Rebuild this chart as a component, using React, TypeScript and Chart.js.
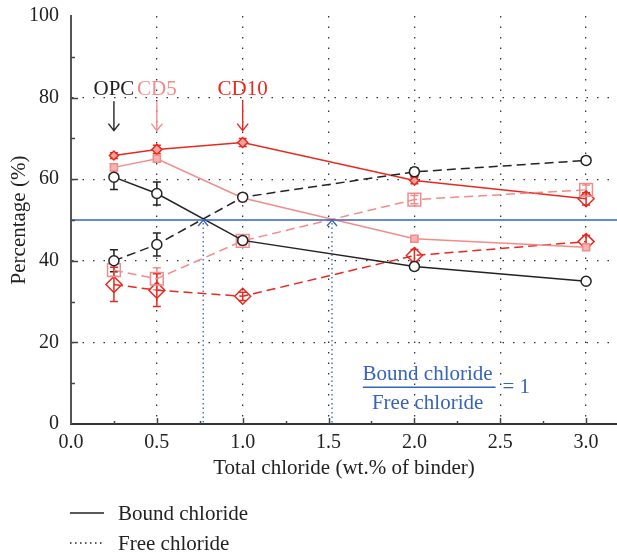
import React, { useEffect, useRef } from "react";
import { Chart, registerables } from "chart.js";

Chart.register(...registerables);

// ---------- data ----------
const totalChloride = [0.25, 0.5, 1.0, 2.0, 3.0];

const opcBound = [60.5, 56.5, 45.0, 38.6, 35.0];
const opcFree = [40.0, 44.0, 55.6, 61.8, 64.6];
const cd5Bound = [62.9, 65.0, 55.4, 45.4, 43.3];
const cd5Free = [37.7, 35.6, 44.9, 55.0, 57.4];
const cd10Bound = [65.8, 67.3, 69.0, 59.7, 55.2];
const cd10Free = [34.2, 32.8, 31.3, 41.3, 44.7];

const opcBoundErr = [3.0, 2.8, 0.8, 0.8, 0.6];
const opcFreeErr = [2.7, 2.8, 0.8, 1.0, 0.8];
const cd5BoundErr = [0.8, 0.8, 0.5, 0.5, 0.5];
const cd5FreeErr = [1.5, 2.7, 1.0, 1.0, 1.2];
const cd10BoundErr = [0.7, 1.0, 1.0, 0.8, 1.5];
const cd10FreeErr = [4.2, 4.0, 1.0, 1.5, 1.5];

const ratioOneLevel = 50;
const crossingX = [0.77, 1.52];

const xTicks = [0, 0.5, 1.0, 1.5, 2.0, 2.5, 3.0];
const yTicks = [0, 20, 40, 60, 80, 100];

const mixLabels = ["OPC", "CD5", "CD10"];
const mixLabelX = [0.25, 0.5, 1.0];
const mixLabelY = 80.7;
const arrowTopY = 79.1;
const arrowBottomY = 71.9;

const fractionTop = "Bound chloride";
const fractionBottom = "Free chloride";
const fractionRight = "= 1";
const fractionCenterX = 2.077;
const fractionLineX = [1.7, 2.473];
const fractionLineY = 9.0;
const fractionTopY = 10.7;
const fractionBottomY = 3.7;
const fractionRightX = 2.513;

const legendLabels = ["Bound chloride", "Free chloride"];

// ---------- styles ----------
const BLACK = "#222222";
const PINK = "#f28c8a";
const RED = "#e8291f";
const BLUE = "#3663bd";
const FONT = "'Liberation Serif', 'Times New Roman', serif";
const MIX_COLORS = [BLACK, PINK, RED];

const pts = (ys: number[]) => totalChloride.map((x, i) => ({ x, y: ys[i] }));

const errorSeries = [
  { ys: opcBound, err: opcBoundErr, color: BLACK },
  { ys: opcFree, err: opcFreeErr, color: BLACK },
  { ys: cd5Bound, err: cd5BoundErr, color: PINK },
  { ys: cd5Free, err: cd5FreeErr, color: PINK },
  { ys: cd10Bound, err: cd10BoundErr, color: RED },
  { ys: cd10Free, err: cd10FreeErr, color: RED },
];

const decorPlugin = {
  id: "decor",
  beforeDatasetsDraw(chart: any) {
    const { ctx, chartArea, scales } = chart;
    const xs = scales.x;
    const ys = scales.y;
    ctx.save();
    // blue dotted verticals
    ctx.strokeStyle = BLUE;
    ctx.lineWidth = 1.3;
    ctx.setLineDash([1.5, 3]);
    crossingX.forEach((cx) => {
      const px = xs.getPixelForValue(cx);
      ctx.beginPath();
      ctx.moveTo(px, ys.getPixelForValue(ratioOneLevel) + 3);
      ctx.lineTo(px, chartArea.bottom);
      ctx.stroke();
    });
    ctx.setLineDash([]);
    // error bars
    ctx.lineWidth = 1.5;
    errorSeries.forEach((s) => {
      ctx.strokeStyle = s.color;
      totalChloride.forEach((xv, i) => {
        const px = xs.getPixelForValue(xv);
        const top = ys.getPixelForValue(s.ys[i] + s.err[i]);
        const bot = ys.getPixelForValue(s.ys[i] - s.err[i]);
        ctx.beginPath();
        ctx.moveTo(px, top);
        ctx.lineTo(px, bot);
        ctx.moveTo(px - 4, top);
        ctx.lineTo(px + 4, top);
        ctx.moveTo(px - 4, bot);
        ctx.lineTo(px + 4, bot);
        ctx.stroke();
      });
    });
    ctx.restore();
  },
  afterDraw(chart: any) {
    const { ctx, chartArea, scales } = chart;
    const xs = scales.x;
    const ys = scales.y;
    ctx.save();
    // inward tick marks
    ctx.strokeStyle = "#444";
    ctx.lineWidth = 1.5;
    for (let v = 10; v < 100; v += 10) {
      const py = Math.round(ys.getPixelForValue(v)) + 0.5;
      const len = v % 20 === 0 ? 7 : 4;
      ctx.beginPath();
      ctx.moveTo(chartArea.left, py);
      ctx.lineTo(chartArea.left + len, py);
      ctx.stroke();
    }
    for (let k = 1; k <= 12; k++) {
      const v = k * 0.25;
      const px = Math.round(xs.getPixelForValue(v)) + 0.5;
      const len = k % 2 === 0 ? 6 : 3;
      ctx.beginPath();
      ctx.moveTo(px, chartArea.bottom);
      ctx.lineTo(px, chartArea.bottom - len);
      ctx.stroke();
    }
    // blue chevrons at crossings
    ctx.strokeStyle = BLUE;
    ctx.lineWidth = 1.3;
    crossingX.forEach((cx) => {
      const px = xs.getPixelForValue(cx);
      const py = ys.getPixelForValue(ratioOneLevel);
      ctx.beginPath();
      ctx.moveTo(px - 5, py + 6);
      ctx.lineTo(px, py);
      ctx.lineTo(px + 5, py + 6);
      ctx.stroke();
    });
    // mix labels and arrows
    ctx.font = `21px ${FONT}`;
    ctx.textAlign = "center";
    ctx.textBaseline = "alphabetic";
    mixLabels.forEach((lab, i) => {
      const px = xs.getPixelForValue(mixLabelX[i]);
      ctx.fillStyle = MIX_COLORS[i];
      ctx.fillText(lab, px, ys.getPixelForValue(mixLabelY));
      ctx.strokeStyle = MIX_COLORS[i];
      ctx.lineWidth = 1.4;
      const t = ys.getPixelForValue(arrowTopY);
      const b = ys.getPixelForValue(arrowBottomY);
      ctx.beginPath();
      ctx.moveTo(px, t);
      ctx.lineTo(px, b);
      ctx.moveTo(px - 5.5, b - 7);
      ctx.lineTo(px, b);
      ctx.lineTo(px + 5.5, b - 7);
      ctx.stroke();
    });
    // fraction annotation
    ctx.fillStyle = BLUE;
    ctx.strokeStyle = BLUE;
    const fcx = xs.getPixelForValue(fractionCenterX);
    ctx.fillText(fractionTop, fcx, ys.getPixelForValue(fractionTopY));
    ctx.fillText(fractionBottom, fcx, ys.getPixelForValue(fractionBottomY));
    ctx.lineWidth = 1.5;
    const fly = ys.getPixelForValue(fractionLineY);
    ctx.beginPath();
    ctx.moveTo(xs.getPixelForValue(fractionLineX[0]), fly);
    ctx.lineTo(xs.getPixelForValue(fractionLineX[1]), fly);
    ctx.stroke();
    ctx.textAlign = "left";
    ctx.textBaseline = "middle";
    ctx.fillText(fractionRight, xs.getPixelForValue(fractionRightX), fly);
    // legend
    ctx.fillStyle = BLACK;
    ctx.strokeStyle = BLACK;
    ctx.lineWidth = 1.5;
    const lx0 = 70;
    const lx1 = 104;
    const ly = [513, 543];
    legendLabels.forEach((lab, i) => {
      ctx.setLineDash(i === 0 ? [] : [1.5, 3.5]);
      ctx.beginPath();
      ctx.moveTo(lx0, ly[i]);
      ctx.lineTo(lx1, ly[i]);
      ctx.stroke();
      ctx.setLineDash([]);
      ctx.fillText(lab, 118, ly[i] + 1);
    });
    ctx.restore();
  },
};

export default function App() {
  const ref = useRef<HTMLCanvasElement | null>(null);
  useEffect(() => {
    if (!ref.current) return;
    const base = {
      showLine: true,
      borderWidth: 1.5,
      pointBorderWidth: 1.5,
      tension: 0,
    };
    const chart = new Chart(ref.current, {
      type: "scatter",
      data: {
        datasets: [
          {
            ...base,
            label: "ratio",
            data: [
              { x: 0, y: ratioOneLevel },
              { x: 3.18, y: ratioOneLevel },
            ],
            borderColor: BLUE,
            pointRadius: 0,
          },
          {
            ...base,
            label: "OPC bound",
            data: pts(opcBound),
            borderColor: BLACK,
            pointStyle: "circle",
            pointRadius: 5,
            pointBackgroundColor: "#ffffff",
            pointBorderColor: BLACK,
          },
          {
            ...base,
            label: "OPC free",
            data: pts(opcFree),
            borderColor: BLACK,
            borderDash: [9, 5],
            pointStyle: "circle",
            pointRadius: 5,
            pointBackgroundColor: "#ffffff",
            pointBorderColor: BLACK,
          },
          {
            ...base,
            label: "CD5 bound",
            data: pts(cd5Bound),
            borderColor: PINK,
            pointStyle: "rect",
            pointRadius: 5,
            pointBackgroundColor: "#f7b3b1",
            pointBorderColor: PINK,
          },
          {
            ...base,
            label: "CD5 free",
            data: pts(cd5Free),
            borderColor: PINK,
            borderDash: [9, 5],
            pointStyle: "rect",
            pointRadius: 9,
            pointBackgroundColor: "rgba(255,255,255,0)",
            pointBorderColor: PINK,
          },
          {
            ...base,
            label: "CD10 bound",
            data: pts(cd10Bound),
            borderColor: RED,
            pointStyle: "rectRot",
            pointRadius: [4.5, 5, 5, 4.5, 8],
            pointBackgroundColor: ["#f5a19b", "#f5a19b", "#f5a19b", "#f5a19b", "rgba(255,255,255,0)"],
            pointBorderColor: RED,
          },
          {
            ...base,
            label: "CD10 free",
            data: pts(cd10Free),
            borderColor: RED,
            borderDash: [9, 5],
            pointStyle: "rectRot",
            pointRadius: 8,
            pointBackgroundColor: "rgba(255,255,255,0)",
            pointBorderColor: RED,
          },
        ],
      },
      options: {
        responsive: false,
        maintainAspectRatio: false,
        animation: false,
        devicePixelRatio: 1,
        layout: { autoPadding: false, padding: { left: 0, right: 0, top: 16, bottom: 73 } },
        plugins: {
          legend: { display: false },
          tooltip: { enabled: false },
        },
        scales: {
          x: {
            type: "linear",
            min: 0,
            max: 3.18,
            afterBuildTicks: (s: any) => {
              s.ticks = xTicks.map((v) => ({ value: v }));
            },
            afterFit: (s: any) => {
              s.height = 57;
              s.paddingLeft = 0;
              s.paddingRight = 0;
            },
            grid: {
              drawTicks: false,
              lineWidth: 1.3,
              color: (c: any) =>
                c.tick && c.tick.value > 0.01 ? "#333333" : "rgba(0,0,0,0)",
            },
            border: { display: true, color: "#333333", width: 2, dash: [1.5, 9] },
            ticks: {
              padding: 7,
              color: BLACK,
              font: { family: FONT, size: 20 },
              callback: (v: any) => Number(v).toFixed(1),
            },
            title: {
              display: true,
              text: "Total chloride (wt.% of binder)",
              color: BLACK,
              font: { family: FONT, size: 21 },
              padding: { top: 0, bottom: 0 },
            },
          },
          y: {
            type: "linear",
            min: 0,
            max: 100,
            afterBuildTicks: (s: any) => {
              s.ticks = yTicks.map((v) => ({ value: v }));
            },
            afterFit: (s: any) => {
              s.width = 71;
              s.paddingTop = 0;
              s.paddingBottom = 0;
            },
            grid: {
              drawTicks: false,
              lineWidth: 1.3,
              color: (c: any) =>
                c.tick && c.tick.value > 0 && c.tick.value < 100 ? "#333333" : "rgba(0,0,0,0)",
            },
            border: { display: true, color: "#555555", width: 2, dash: [1.5, 9] },
            ticks: {
              padding: 12,
              color: BLACK,
              font: { family: FONT, size: 20 },
            },
            title: {
              display: true,
              text: "Percentage (%)",
              color: BLACK,
              font: { family: FONT, size: 21 },
              padding: { top: 7, bottom: 0 },
            },
          },
        },
      },
      plugins: [decorPlugin],
    } as any);
    return () => chart.destroy();
  }, []);
  return (
    <div style={{ position: "fixed", left: 0, top: 0, width: 617, height: 554, background: "#fff" }}>
      <canvas ref={ref} width={617} height={554} style={{ display: "block" }} />
    </div>
  );
}
